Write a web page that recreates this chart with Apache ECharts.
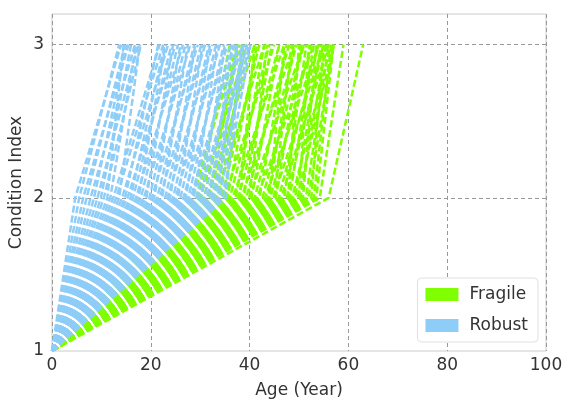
<!DOCTYPE html>
<html>
<head>
<meta charset="utf-8">
<script src="https://cdn.jsdelivr.net/npm/echarts@6/dist/echarts.min.js"></script>
<style>
  html, body { margin: 0; padding: 0; background: #fff; }
  #chart { width: 563px; height: 399px; }
</style>
</head>
<body>
<div id="chart"></div>
<script>
// Condition index steps: every line runs (0,1) -> (age at 2, 2) -> (age at 3, 3)
const conditionLevels = [1, 2, 3];
const xTicks = [0, 20, 40, 60, 80, 100];

// Fragile group
const fragileAgeAt2 = [28.5, 29.5, 30, 30.8, 31.5, 32, 32.6, 33.2, 33.8, 34.3, 34.9, 35, 35.5, 36,
  36.6, 37.2, 37.7, 38, 38.3, 38.8, 39.3, 39.9, 40, 40.4, 41, 41.5, 42, 42.6, 43.1, 43.7, 44,
  44.2, 44.8, 45, 45.3, 45.9, 46.4, 47, 47.5, 47.8, 48.1, 48.6, 49.2, 49.7, 50, 50.3, 50.8,
  51.4, 51.9, 52.5, 53, 53.5, 54.2, 56];
const fragileAgeAt3 = [37.5, 36, 39.5, 38, 41, 37.5, 40, 43, 39, 42, 45, 38.5, 41.5, 44,
  47, 43, 46, 41, 49, 44.5, 48, 51, 43.5, 46, 49.5, 53, 47.5, 51, 54, 49, 47,
  52.5, 55, 48.5, 50.5, 54, 56, 51.5, 55, 50, 53, 56.5, 54.5, 57, 52, 55.5, 53.5,
  56, 57, 55, 56.5, 57, 59, 63];

// Robust group
const robustAgeAt2 = [4.7, 5.5, 6.3, 7, 7.8, 8.5, 9.2, 9.9, 10.5, 11.2, 11.8, 12.4, 13, 13.6,
  14.2, 14.8, 15.3, 15.9, 16.4, 17, 17.5, 18, 18.6, 19.1, 19.7, 20.2, 20.7, 21.3, 21.8, 22.3,
  22.9, 23.4, 23.9, 24.5, 25, 25.5, 26, 26.6, 27.1, 27.6, 28.1, 28.7, 29.2, 29.7, 30.3, 30.8,
  31.3, 31.9, 32.4, 32.9, 33.5, 34, 34.6, 35.2];
const robustAgeAt3 = [14, 13.6, 15.5, 14.8, 16.8, 15.2, 17.5, 16, 18, 14.5, 17, 21.8, 22.5, 17.8,
  23.5, 21.5, 25, 22.8, 24.2, 26.5, 23, 25.5, 28, 24.5, 27, 29.5, 26, 28.8, 31, 27.5,
  30.2, 32.5, 29, 31.8, 34, 30.5, 33.2, 35.5, 32, 34.8, 37, 33.5, 36.2, 38.5, 35, 37.6,
  39.5, 36.5, 38.8, 40, 37.5, 39.2, 40.2, 38.5];

const groups = [
  { name: "Fragile", color: "#7fff00", at2: fragileAgeAt2, at3: fragileAgeAt3 },
  { name: "Robust", color: "#8ecdf8", at2: robustAgeAt2, at3: robustAgeAt3 },
];

const textColor = "#333333";
const gridColor = "#999999";

const series = [];
groups.forEach((g) => {
  g.at2.forEach((a, i) => {
    series.push({
      name: g.name,
      type: "line",
      symbol: "none",
      silent: true,
      itemStyle: { color: g.color },
      lineStyle: { color: g.color, width: 2.5, type: [7, 3] },
      data: [[0, conditionLevels[0]], [a, conditionLevels[1]], [g.at3[i], conditionLevels[2]]],
    });
  });
});

const chart = echarts.init(document.getElementById("chart"));
chart.setOption({
  animation: false,
  textStyle: { fontFamily: "DejaVu Sans" },
  grid: {
    left: 52, right: 17, top: 14, bottom: 48,
    outerBoundsMode: "none",
    containLabel: false,
    show: true, borderColor: "#cccccc", borderWidth: 1,
  },
  legend: {
    data: groups.map((g) => ({ name: g.name, icon: "rect" })),
    orient: "vertical",
    right: 25,
    bottom: 57,
    itemWidth: 33,
    itemHeight: 13,
    itemGap: 14,
    padding: [8, 10, 8, 8],
    backgroundColor: "#ffffff",
    borderColor: "#e0e0e0",
    borderWidth: 1,
    borderRadius: 4,
    textStyle: { color: textColor, fontSize: 17, padding: [0, 0, 0, 6] },
  },
  xAxis: {
    type: "value",
    min: xTicks[0],
    max: xTicks[xTicks.length - 1],
    interval: 20,
    name: "Age (Year)",
    nameLocation: "middle",
    nameGap: 31,
    nameTextStyle: { color: textColor, fontSize: 17 },
    axisLine: { show: false },
    axisTick: { show: false },
    axisLabel: { color: textColor, fontSize: 17, margin: 6 },
    splitLine: { lineStyle: { color: gridColor, type: [4, 3], width: 1 } },
  },
  yAxis: {
    type: "value",
    min: 1,
    max: 3.2,
    interval: 1,
    name: "Condition Index",
    nameLocation: "middle",
    nameGap: 27,
    nameMoveOverlap: false,
    nameTextStyle: { color: textColor, fontSize: 17 },
    axisLine: { show: false },
    axisTick: { show: false },
    axisLabel: {
      color: textColor, fontSize: 17, margin: 8,
      formatter: (v) => (conditionLevels.includes(v) ? String(v) : ""),
    },
    splitLine: {
      showMinLine: false,
      showMaxLine: false,
      lineStyle: { color: gridColor, type: [4, 3], width: 1 },
    },
  },
  series: series,
});
</script>
</body>
</html>
